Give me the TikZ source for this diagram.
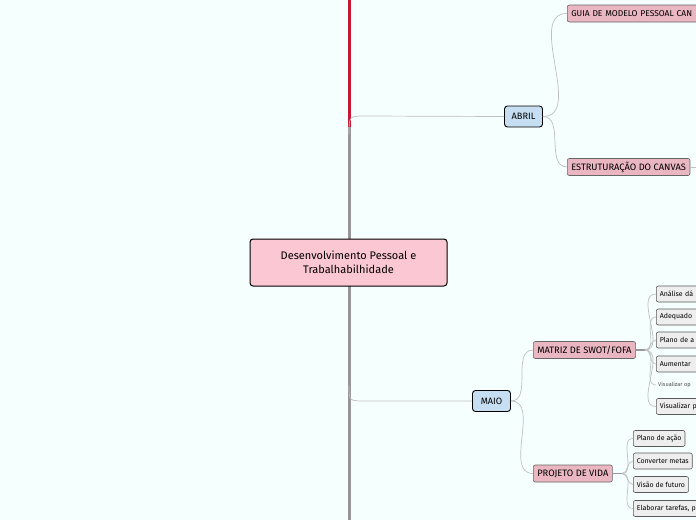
\documentclass[tikz,border=0pt]{standalone}
\usepackage{fontspec}
\setmainfont{Fira Sans}

\definecolor{bgmint}{RGB}{245,255,253}
\definecolor{trunkred}{RGB}{200,22,52}
\definecolor{trunkgray}{RGB}{150,150,152}
\definecolor{linkgray}{RGB}{192,192,192}
\definecolor{rootpink}{RGB}{250,199,210}
\definecolor{monthblue}{RGB}{198,222,241}
\definecolor{topicpink}{RGB}{233,182,193}
\definecolor{leafgray}{RGB}{238,238,238}

\tikzset{
  root/.style={draw=black, fill=rootpink, rounded corners=3pt, line width=1pt,
    minimum width=197pt, minimum height=47pt, align=center,
    font=\fontsize{11}{14.5}\selectfont},
  month/.style={draw=black, fill=monthblue, rounded corners=3pt, line width=0.9pt,
    minimum height=21pt, minimum width=38pt, inner xsep=3pt, inner ysep=1pt,
    font=\fontsize{9.2}{10}\selectfont},
  topic/.style={draw=black!60, fill=topicpink, rounded corners=2pt, line width=0.6pt,
    minimum height=17pt, inner xsep=4pt, inner ysep=1pt,
    font=\fontsize{9.3}{10}\selectfont},
  leaf/.style={draw=black!65, fill=leafgray, rounded corners=2pt, line width=0.6pt,
    minimum height=16pt, inner xsep=3.5pt, inner ysep=1pt,
    font=\fontsize{7}{8}\selectfont},
  cutoff/.style={anchor=west, text width=#1, align=left},
  link/.style={draw=linkgray, line width=0.7pt},
  stem/.style={draw=black!40, line width=1.2pt},
}

\begin{document}
\begin{tikzpicture}[x=1pt, y=-1pt]
  % Page and clip
  \useasboundingbox[fill=bgmint] (0,0) rectangle (696,520);
  \clip (0,0) rectangle (696,520);

  % Trunk: red above, gray below
  \coordinate (top) at (349,0);
  \coordinate (turn) at (349,127);
  \coordinate (bottom) at (349,520);
  \draw[trunkgray, line width=3pt] (turn) -- (bottom);
  \draw[trunkred, line width=3pt] (top) -- (turn);

  % Central topic
  \node[root] (core) at (348.5,262.5) {Desenvolvimento Pessoal e\\Trabalhabilhidade};

  % Months
  \node[month] (abril) at (523.5,116.5) {ABRIL};
  \node[month] (maio) at (491.5,401) {MAIO};

  \coordinate (abrilfork) at (349,134);
  \coordinate (maiofork) at (349,386);
  \draw[link] (abrilfork) .. controls (349,116) .. (366,116) -- (abril.west);
  \draw[link] (maiofork) .. controls (349,401) .. (366,401) -- (maio.west);

  % ABRIL topics
  \node[topic, cutoff=170pt, font=\fontsize{8.5}{10}\selectfont] (guia) at (567,13.5)
    {GUIA DE MODELO PESSOAL CAN};
  \node[topic, anchor=west] (canvas) at (567,167) {ESTRUTURAÇÃO DO CANVAS};
  \coordinate (canvasout) at (702,167);

  \draw[link] (abril.east) to[out=0, in=180] (guia.west);
  \draw[link] (abril.east) to[out=0, in=180] (canvas.west);
  \draw[link] (canvas.east) -- (canvasout);

  % MAIO topics
  \node[topic, anchor=west] (swot) at (533,350) {MATRIZ DE SWOT/FOFA};
  \node[topic, anchor=west] (vida) at (533,473.5) {PROJETO DE VIDA};

  \draw[link] (maio.east) to[out=0, in=180] (swot.west);
  \draw[link] (maio.east) to[out=0, in=180] (vida.west);

  % SWOT leaves
  \coordinate (swotfork) at (645,350);
  \draw[stem] (swot.east) -- (swotfork);
  \node[leaf, cutoff=60pt] (analise) at (656,294) {Análise dá};
  \node[leaf, cutoff=60pt] (adequado) at (656,317) {Adequado};
  \node[leaf, cutoff=60pt] (planoa) at (656,340) {Plano de a};
  \node[leaf, cutoff=60pt] (aumentar) at (656,364) {Aumentar};
  \node[anchor=west, inner xsep=2pt, text=black!70, font=\fontsize{5.6}{6}\selectfont]
    (visop) at (656,385) {Visualizar op};
  \node[leaf, cutoff=60pt] (visp) at (656,406.5) {Visualizar p};
  \foreach \n in {analise,adequado,planoa,aumentar,visop,visp}
    \draw[link] (swotfork) to[out=0, in=180] (\n.west);

  % VIDA leaves
  \coordinate (vidafork) at (622,473.5);
  \draw[stem] (vida.east) -- (vidafork);
  \node[leaf, anchor=west] (planoacao) at (633,438.5) {Plano de ação};
  \node[leaf, anchor=west] (metas) at (633,461) {Converter metas};
  \node[leaf, anchor=west] (futuro) at (633,484.5) {Visão de futuro};
  \node[leaf, cutoff=80pt] (tarefas) at (633,508.5) {Elaborar tarefas, p};
  \foreach \n in {planoacao,metas,futuro,tarefas}
    \draw[link] (vidafork) to[out=0, in=180] (\n.west);
\end{tikzpicture}
\end{document}
